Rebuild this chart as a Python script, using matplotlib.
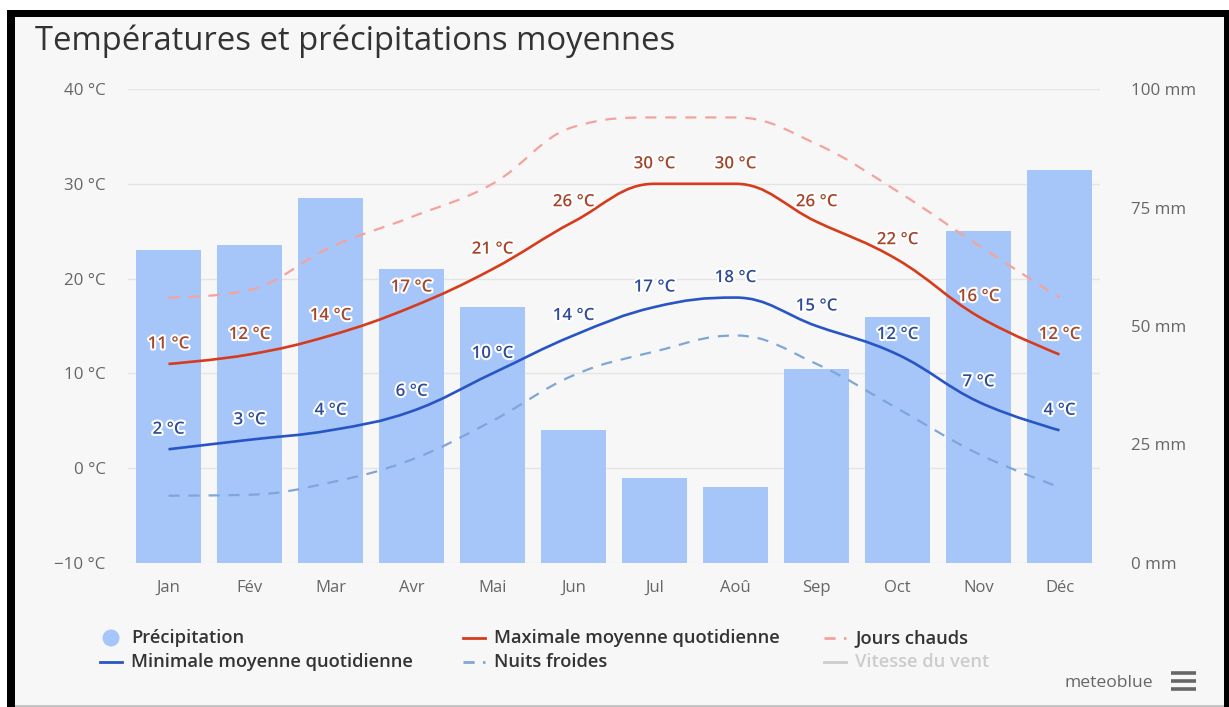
import matplotlib
matplotlib.use("Agg")
import matplotlib.pyplot as plt
from matplotlib.path import Path
from matplotlib.patches import PathPatch, Rectangle, Ellipse
from matplotlib.lines import Line2D
import matplotlib.patheffects as pe

# data
months = ["Jan", "Fév", "Mar", "Avr", "Mai", "Jun", "Jul", "Aoû", "Sep", "Oct", "Nov", "Déc"]
precip_mm = [66, 67, 77, 62, 54, 28, 18, 16, 41, 52, 70, 83]
temp_max = [11, 12, 14, 17, 21, 26, 30, 30, 26, 22, 16, 12]
temp_min = [2, 3, 4, 6, 10, 14, 17, 18, 15, 12, 7, 4]
hot_days = [18, 18.8, 23.3, 26.5, 30, 36, 37, 37, 34.2, 29.2, 23.5, 18]
cold_nights = [-2.9, -2.8, -1.5, 0.9, 5, 9.8, 12.3, 14, 11, 6.3, 1.5, -2]
temp_ticks = [-10, 0, 10, 20, 30, 40]
mm_ticks = [0, 25, 50, 75, 100]

W, H = 1229, 707
BG = "#f7f7f7"
BAR = "#a6c6fa"
RED = "#d63c1c"
BLUE = "#2855c4"
HOT = "#f4a39b"
COLD = "#7ea6d9"
TXT = "#666666"

plt.rcParams["font.family"] = ["Open Sans", "DejaVu Sans"]


def fx(x):
    return x / W


def fy(y):
    return 1 - y / H


def spline_path(xs, ys, smoothing=1.5):
    # Highcharts-like spline: cubic bezier with clamped control points
    n = len(xs)
    d = smoothing + 1
    lc, rc = [None] * n, [None] * n
    for i in range(n):
        x, y = xs[i], ys[i]
        if 0 < i < n - 1:
            lx, ly = xs[i - 1], ys[i - 1]
            nx, ny = xs[i + 1], ys[i + 1]
            lcx, lcy = (smoothing * x + lx) / d, (smoothing * y + ly) / d
            rcx, rcy = (smoothing * x + nx) / d, (smoothing * y + ny) / d
            corr = (rcy - lcy) * (rcx - x) / (rcx - lcx) + y - rcy
            lcy += corr
            rcy += corr
            if lcy > ly and lcy > y:
                lcy = max(ly, y)
                rcy = 2 * y - lcy
            elif lcy < ly and lcy < y:
                lcy = min(ly, y)
                rcy = 2 * y - lcy
            if rcy > ny and rcy > y:
                rcy = max(ny, y)
                lcy = 2 * y - rcy
            elif rcy < ny and rcy < y:
                rcy = min(ny, y)
                lcy = 2 * y - rcy
            lc[i], rc[i] = (lcx, lcy), (rcx, rcy)
        else:
            lc[i] = rc[i] = (x, y)
    verts = [(xs[0], ys[0])]
    codes = [Path.MOVETO]
    for i in range(1, n):
        verts += [rc[i - 1], lc[i], (xs[i], ys[i])]
        codes += [Path.CURVE4] * 3
    return Path(verts, codes)


fig = plt.figure(figsize=(W / 100, H / 100), dpi=100, facecolor="white")

# frame and background
fig.patches.append(Rectangle((fx(7), 0), fx(1229 - 7), fy(10), transform=fig.transFigure,
                             facecolor="black", edgecolor="none", zorder=-3))
fig.patches.append(Rectangle((fx(15), fy(705)), fx(1224 - 15), fy(17) - fy(705),
                             transform=fig.transFigure, facecolor=BG, edgecolor="none", zorder=-2))
fig.patches.append(Rectangle((fx(15), 0), fx(1224 - 15), fy(705), transform=fig.transFigure,
                             facecolor="#c4c4c4", edgecolor="none", zorder=-2))

fig.text(fx(35), fy(41), "Températures et précipitations moyennes", fontsize=23.6,
         color="#333333", va="center", ha="left")

left, right, top, bottom = 128, 1100, 89, 563
ax_mm = fig.add_axes([fx(left), fy(bottom), fx(right - left), fy(top) - fy(bottom)])
ax_t = ax_mm.twinx()
ax_mm.set_facecolor("none")
ax_t.set_facecolor("none")

x = list(range(len(months)))

# precipitation bars (right axis)
ax_mm.set_ylim(0, 100)
ax_mm.set_xlim(-0.5, len(months) - 0.5)
for t in temp_ticks:
    ax_mm.axhline((t - temp_ticks[0]) / (temp_ticks[-1] - temp_ticks[0]) * 100,
                  color="#e4e4e4", lw=1, zorder=0)
ax_mm.bar(x, precip_mm, width=0.8, color=BAR, zorder=2)
ax_mm.yaxis.tick_right()
ax_mm.set_yticks(mm_ticks)
ax_mm.set_yticklabels([f"{v} mm" for v in mm_ticks])
ax_mm.tick_params(axis="y", length=0, pad=22, labelsize=12.2, labelcolor=TXT)
ax_mm.set_xticks(x)
ax_mm.set_xticklabels(months)
ax_mm.tick_params(axis="x", length=0, pad=12, labelsize=12, labelcolor=TXT)

# temperatures (left axis)
ax_t.set_ylim(temp_ticks[0], temp_ticks[-1])
ax_t.yaxis.tick_left()
ax_t.set_yticks(temp_ticks)
ax_t.set_yticklabels([f"{v} °C".replace("-", "−") for v in temp_ticks])
ax_t.tick_params(axis="y", length=0, pad=16, labelsize=12.2, labelcolor=TXT)

for a in (ax_mm, ax_t):
    for s in a.spines.values():
        s.set_visible(False)

ax_t.add_patch(PathPatch(spline_path(x, hot_days), fill=False, edgecolor=HOT, lw=1.6,
                         linestyle=(0, (5, 4)), capstyle="butt"))
ax_t.add_patch(PathPatch(spline_path(x, cold_nights), fill=False, edgecolor=COLD, lw=1.6,
                         linestyle=(0, (5, 4)), capstyle="butt"))
ax_t.add_patch(PathPatch(spline_path(x, temp_max), fill=False, edgecolor=RED, lw=1.9))
ax_t.add_patch(PathPatch(spline_path(x, temp_min), fill=False, edgecolor=BLUE, lw=1.9))

halo = [pe.withStroke(linewidth=3, foreground="white")]
for xi, v in zip(x, temp_max):
    ax_t.annotate(f"{v} °C", (xi, v), xytext=(0, 14), textcoords="offset points",
                  ha="center", va="center", fontsize=12.2, fontweight="semibold",
                  color="#a4462a", path_effects=halo)
for xi, v in zip(x, temp_min):
    ax_t.annotate(f"{v} °C", (xi, v), xytext=(0, 14), textcoords="offset points",
                  ha="center", va="center", fontsize=12.2, fontweight="semibold",
                  color="#2e4c9a", path_effects=halo)

# legend drawn by hand, row-major like the original
leg_fs = 13.2
fig.patches.append(Ellipse((fx(111), fy(638)), fx(17), fy(0) - fy(17), transform=fig.transFigure,
                           facecolor=BAR, edgecolor="none"))
items = [
    (131, 638, None, "Précipitation", "#333333"),
    (494, 638, (RED, "-"), "Maximale moyenne quotidienne", "#333333"),
    (855, 638, (HOT, "--"), "Jours chauds", "#333333"),
    (131, 662, (BLUE, "-"), "Minimale moyenne quotidienne", "#333333"),
    (494, 662, (COLD, "--"), "Nuits froides", "#333333"),
    (855, 662, ("#cccccc", "-"), "Vitesse du vent", "#cccccc"),
]
for tx, ty, style, label, tc in items:
    if style is not None:
        col, ls = style
        dashes = (0, (4, 3)) if ls == "--" else "-"
        fig.lines.append(Line2D([fx(tx - 31), fx(tx - 9)], [fy(ty), fy(ty)], color=col, lw=2,
                                linestyle=dashes, transform=fig.transFigure))
    fig.text(fx(tx), fy(ty), label, fontsize=leg_fs, fontweight="semibold", color=tc,
             ha="left", va="center")

fig.text(fx(1153), fy(683), "meteoblue", fontsize=12.6, color=TXT, ha="right", va="center")
for yy in (673, 681, 689):
    fig.lines.append(Line2D([fx(1171), fx(1196)], [fy(yy), fy(yy)], color="#666666", lw=2.6,
                            solid_capstyle="butt", transform=fig.transFigure))

fig.savefig("out.png", dpi=100, facecolor=fig.get_facecolor())
